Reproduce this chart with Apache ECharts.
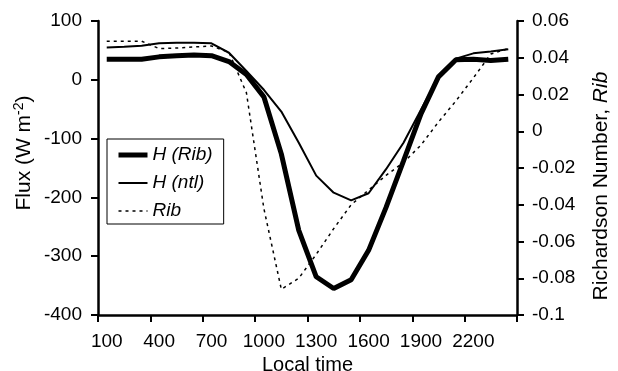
<!DOCTYPE html>
<html>
<head>
<meta charset="utf-8">
<script src="https://cdn.jsdelivr.net/npm/echarts@6/dist/echarts.min.js"></script>
<style>
  html, body { margin: 0; padding: 0; background: #fff; }
  #chart { width: 618px; height: 371px; }
</style>
</head>
<body>
<div id="chart"></div>
<script>
// local time, hourly
var times = ['100', '200', '300', '400', '500', '600', '700', '800', '900', '1000', '1100', '1200',
  '1300', '1400', '1500', '1600', '1700', '1800', '1900', '2000', '2100', '2200', '2300', '2400'];

// sensible heat flux from Rib method (W m-2)
var hRib = [35, 35, 35, 39, 41, 42, 41, 31, 9, -29, -126, -256,
  -335, -355, -340, -290, -217, -138, -58, 5, 34, 35, 33, 35];

// sensible heat flux, ntl (W m-2)
var hNtl = [55, 56, 58, 62, 63, 63, 62, 46, 15, -17, -54, -107,
  -163, -192, -205, -193, -152, -107, -51, 5, 36, 45, 48, 52];

// bulk Richardson number
var rib = [0.049, 0.049, 0.049, 0.045, 0.0453, 0.0459, 0.0464, 0.043, 0.021, -0.042, -0.086, -0.080,
  -0.067, -0.053, -0.040, -0.032, -0.024, -0.017, -0.0075, 0.005, 0.0165, 0.029, 0.042, 0.045];

var font = 'Liberation Sans, Arial, sans-serif';
var chart = echarts.init(document.getElementById('chart'));

var axisLineStyle = { color: '#000', width: 2.5 };
var tickStyle = { color: '#000', width: 2 };

var option = {
  animation: false,
  backgroundColor: '#fff',
  textStyle: { fontFamily: font, color: '#000' },
  grid: { left: 98, right: 101, top: 21, bottom: 56, containLabel: false, outerBoundsMode: 'none' },
  legend: {
    orient: 'vertical',
    left: 107,
    top: 139,
    padding: [6, 11, 3, 9],
    itemWidth: 29,
    itemHeight: 14,
    itemGap: 8,
    borderColor: '#000',
    borderWidth: 1,
    backgroundColor: '#fff',
    itemStyle: { opacity: 0 },
    textStyle: { fontFamily: font, fontSize: 19, fontStyle: 'italic', color: '#000', lineHeight: 20 },
    data: [
      { name: 'H (Rib)', lineStyle: { color: '#000', width: 5 } },
      { name: 'H (ntl)', lineStyle: { color: '#000', width: 2 } },
      { name: 'Rib', lineStyle: { color: '#000', width: 1.5, type: [3, 4] } }
    ]
  },
  xAxis: {
    type: 'category',
    data: times,
    boundaryGap: true,
    axisLine: { onZero: false, lineStyle: axisLineStyle },
    axisTick: { show: true, interval: 2, length: 7, lineStyle: tickStyle },
    axisLabel: { interval: 2, color: '#000', fontFamily: font, fontSize: 19, margin: 17 },
    splitLine: { show: false },
    name: 'Local time',
    nameLocation: 'middle',
    nameGap: 35,
    nameTextStyle: { fontFamily: font, fontSize: 20, color: '#000' }
  },
  yAxis: [{
    type: 'value',
    position: 'left',
    min: -400,
    max: 100,
    interval: 100,
    axisLine: { show: true, lineStyle: axisLineStyle },
    axisTick: { show: true, length: 7, lineStyle: tickStyle },
    axisLabel: { color: '#000', fontFamily: font, fontSize: 19, margin: 16 },
    splitLine: { show: false },
    name: 'Flux (W m{sup|-2})',
    nameLocation: 'middle',
    nameRotate: 90,
    nameGap: 62,
    nameMoveOverlap: false,
    nameTextStyle: {
      fontFamily: font, fontSize: 21, color: '#000',
      padding: [0, 0, 0, 30],
      rich: { sup: { fontFamily: font, fontSize: 14, color: '#000', verticalAlign: 'top', padding: [0, 0, 10, 0] } }
    }
  }, {
    type: 'value',
    position: 'right',
    min: -0.1,
    max: 0.06,
    interval: 0.02,
    axisLine: { show: true, lineStyle: axisLineStyle },
    axisTick: { show: true, length: 7, lineStyle: tickStyle },
    axisLabel: { color: '#000', fontFamily: font, fontSize: 19, margin: 15 },
    splitLine: { show: false },
    name: 'Richardson Number, {it|Rib}',
    nameLocation: 'middle',
    nameRotate: 90,
    nameGap: 74,
    nameTextStyle: {
      fontFamily: font, fontSize: 21, color: '#000',
      padding: [0, 36, 0, 0],
      rich: { it: { fontFamily: font, fontSize: 21, fontStyle: 'italic', color: '#000' } }
    }
  }],
  series: [{
    name: 'H (Rib)',
    type: 'line',
    yAxisIndex: 0,
    data: hRib,
    symbol: 'none',
    color: '#000',
    lineStyle: { color: '#000', width: 5 }
  }, {
    name: 'H (ntl)',
    type: 'line',
    yAxisIndex: 0,
    data: hNtl,
    symbol: 'none',
    color: '#000',
    lineStyle: { color: '#000', width: 2 }
  }, {
    name: 'Rib',
    type: 'line',
    yAxisIndex: 1,
    data: rib,
    symbol: 'none',
    color: '#000',
    lineStyle: { color: '#000', width: 1.5, type: [3, 4] }
  }]
};

chart.setOption(option);
</script>
</body>
</html>
